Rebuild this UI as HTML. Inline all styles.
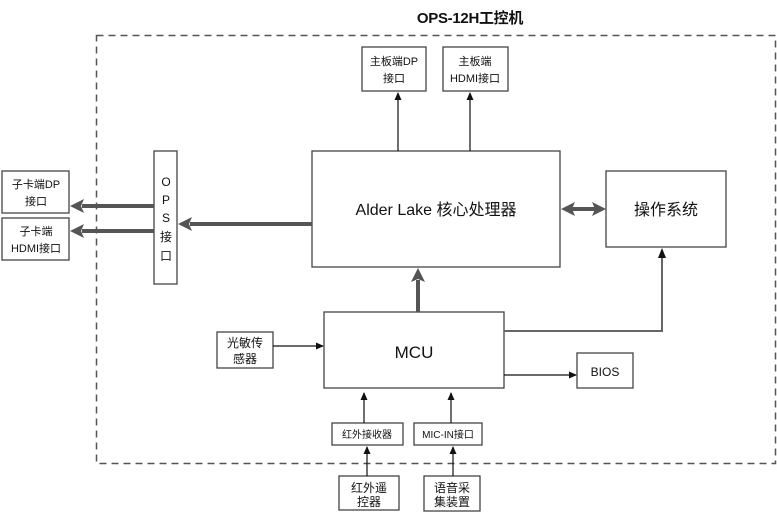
<!DOCTYPE html>
<html><head><meta charset="utf-8"><style>
html,body{margin:0;padding:0;background:#fff;}
svg{display:block;}
text{font-family:"Liberation Sans","Noto Sans CJK SC",sans-serif;fill:#111;}
</style></head><body>
<svg width="777" height="516" viewBox="0 0 777 516" xmlns="http://www.w3.org/2000/svg">
<defs>
<marker id="a" markerWidth="8" markerHeight="8" refX="7" refY="4" orient="auto" markerUnits="userSpaceOnUse"><path d="M0,0.5 L8,4 L0,7.5 Z" fill="#111"/></marker>
</defs>
<text x="470" y="23" text-anchor="middle" font-size="15" font-weight="bold" letter-spacing="-0.3">OPS-12H工控机</text>
<rect x="96.5" y="35.5" width="679" height="428" fill="none" stroke="#555" stroke-width="1.5" stroke-dasharray="7,5"/>
<g fill="#fff" stroke="#444" stroke-width="1.3">
<rect x="362" y="47" width="64" height="44"/>
<rect x="443" y="47" width="65" height="44"/>
<rect x="312" y="151" width="248" height="116"/>
<rect x="606" y="171" width="120" height="76"/>
<rect x="154" y="151" width="23" height="133"/>
<rect x="2" y="171" width="67" height="42"/>
<rect x="2" y="218" width="67" height="42"/>
<rect x="324" y="312" width="180" height="76"/>
<rect x="577" y="353" width="56" height="35"/>
<rect x="217" y="332" width="56" height="36"/>
<rect x="332" y="423" width="71" height="22"/>
<rect x="414" y="423" width="68" height="22"/>
<rect x="339" y="476" width="60" height="34"/>
<rect x="424" y="476" width="56" height="35"/>
</g>
<g stroke="#111" stroke-width="1.2" fill="none" marker-end="url(#a)">
<line x1="398" y1="151" x2="398" y2="93"/>
<line x1="470" y1="151" x2="470" y2="93"/>
<line x1="273" y1="346" x2="323" y2="346"/>
<line x1="504" y1="375" x2="576" y2="375"/>
<line x1="364" y1="423" x2="364" y2="393"/>
<line x1="451" y1="423" x2="451" y2="393"/>
<line x1="367" y1="476" x2="367" y2="447"/>
<line x1="453" y1="476" x2="453" y2="447"/>
</g>
<polyline points="504,331 662,331 662,250" fill="none" stroke="#666" stroke-width="2"/>
<path d="M658,258 L662,248 L666,258 Z" fill="#111"/>
<g stroke="#555" stroke-width="4" fill="none">
<line x1="312" y1="224" x2="190" y2="224"/>
<line x1="154" y1="206" x2="82" y2="206"/>
<line x1="154" y1="231" x2="82" y2="231"/>
<line x1="418" y1="312" x2="418" y2="280"/>
<line x1="570" y1="209" x2="596" y2="209"/>
</g>
<g fill="#555">
<path d="M178,224 L192,217 L189,224 L192,231 Z"/>
<path d="M70,206 L84,199 L81,206 L84,213 Z"/>
<path d="M70,231 L84,224 L81,231 L84,238 Z"/>
<path d="M418,268 L425,282 L418,279 L411,282 Z"/>
<path d="M561,209 L575,202 L572,209 L575,216 Z"/>
<path d="M606,209 L592,202 L595,209 L592,216 Z"/>
</g>
<text x="436" y="215" text-anchor="middle" font-size="16">Alder Lake 核心处理器</text>
<text x="666" y="215" text-anchor="middle" font-size="16">操作系统</text>
<text x="414" y="358" text-anchor="middle" font-size="17">MCU</text>
<text x="605" y="376" text-anchor="middle" font-size="12">BIOS</text>
<g font-size="11" text-anchor="middle">
<text x="394" y="65">主板端DP</text><text x="394" y="82">接口</text>
<text x="475" y="65">主板端</text><text x="475" y="82">HDMI接口</text>
<text x="36" y="188">子卡端DP</text><text x="36" y="205">接口</text>
<text x="36" y="235">子卡端</text><text x="36" y="252">HDMI接口</text>
</g>
<g font-size="12" text-anchor="middle">
<text x="245" y="347">光敏传</text><text x="245" y="363">感器</text>
<text x="369" y="492">红外遥</text><text x="369" y="506">控器</text>
<text x="452" y="492">语音采</text><text x="452" y="506">集装置</text>
<text x="166" y="186">O</text><text x="166" y="204">P</text><text x="166" y="222">S</text>
<text x="166" y="241">接</text><text x="166" y="260">口</text>
</g>
<g font-size="10" text-anchor="middle">
<text x="367" y="438">红外接收器</text>
<text x="448" y="438">MIC-IN接口</text>
</g>
</svg>
</body></html>
